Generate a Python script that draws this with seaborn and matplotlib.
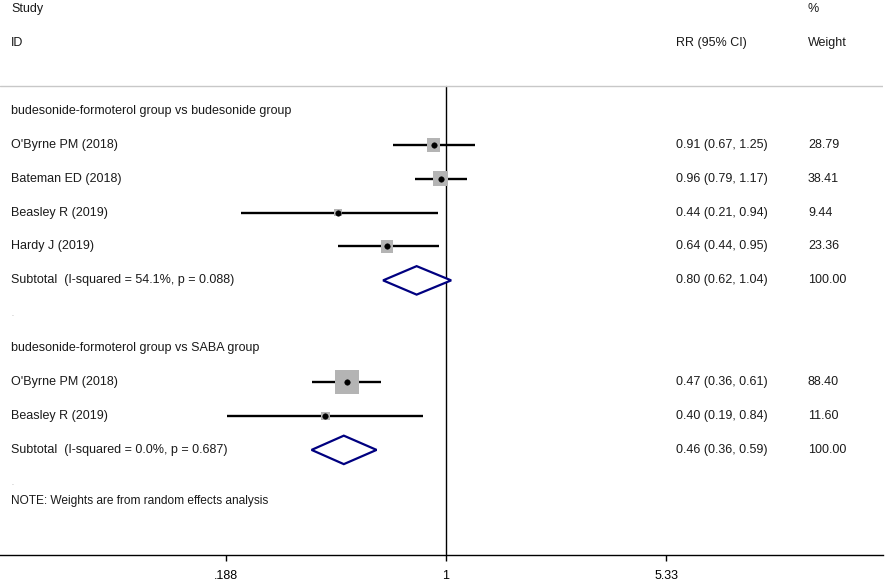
import numpy as np
import matplotlib
matplotlib.use("Agg")
import matplotlib.pyplot as plt
import matplotlib.transforms as mtransforms
import seaborn as sns
import pandas as pd

# --- data ---
group_names = ["budesonide-formoterol group vs budesonide group",
               "budesonide-formoterol group vs SABA group"]
studies_1 = ["O'Byrne PM (2018)", "Bateman ED (2018)", "Beasley R (2019)", "Hardy J (2019)"]
rr_1 = [0.91, 0.96, 0.44, 0.64]
lo_1 = [0.67, 0.79, 0.21, 0.44]
hi_1 = [1.25, 1.17, 0.94, 0.95]
wt_1 = [28.79, 38.41, 9.44, 23.36]
sub_1 = (0.80, 0.62, 1.04)
sub_label_1 = "Subtotal  (I-squared = 54.1%, p = 0.088)"

studies_2 = ["O'Byrne PM (2018)", "Beasley R (2019)"]
rr_2 = [0.47, 0.40]
lo_2 = [0.36, 0.19]
hi_2 = [0.61, 0.84]
wt_2 = [88.40, 11.60]
sub_2 = (0.46, 0.36, 0.59)
sub_label_2 = "Subtotal  (I-squared = 0.0%, p = 0.687)"

xticks = [0.188, 1, 5.33]
xtick_labels = [".188", "1", "5.33"]
note = "NOTE: Weights are from random effects analysis"

sns.set_style("white")
plt.rcParams['font.family'] = ['Liberation Sans', 'DejaVu Sans']
FS = 9.0

fig = plt.figure(figsize=(8.86, 5.84), dpi=100)
ax = fig.add_axes([0, 1 - 555 / 584, 883 / 886, 555 / 584])
ax.set_xscale("log")
ax.set_xlim(np.exp(-446 / 131.6), np.exp((883 - 446) / 131.6))
ax.set_ylim(13.1, -3.27)

# build row table
rows = []
r = 0
for name, st, rr, lo, hi, wt, sub, sl in [
        (group_names[0], studies_1, rr_1, lo_1, hi_1, wt_1, sub_1, sub_label_1),
        (group_names[1], studies_2, rr_2, lo_2, hi_2, wt_2, sub_2, sub_label_2)]:
    rows.append(dict(row=r, kind="head", label=name))
    r += 1
    for s, e, l, h, w in zip(st, rr, lo, hi, wt):
        rows.append(dict(row=r, kind="study", label=s, rr=e, lo=l, hi=h, wt=w))
        r += 1
    rows.append(dict(row=r, kind="sub", label=sl, rr=sub[0], lo=sub[1], hi=sub[2], wt=100.0))
    r += 1
    rows.append(dict(row=r, kind="blank", label="."))
    r += 1
df = pd.DataFrame(rows)
st_df = df[df.kind == "study"]
sub_df = df[df.kind == "sub"]

# CI lines
ax.hlines(st_df.row, st_df.lo, st_df.hi, color="black", lw=1.7, zorder=2)
# weight boxes (area proportional to weight)
sns.scatterplot(data=st_df, x="rr", y="row", size="wt", sizes=(0, 330), size_norm=(0, 100),
                marker="s", color="#b4b4b4", edgecolor="none", legend=False, ax=ax, zorder=3)
# point estimates
sns.scatterplot(data=st_df, x="rr", y="row", marker="o", s=16, color="black",
                edgecolor="black", legend=False, ax=ax, zorder=4)
# subtotal diamonds
for _, d in sub_df.iterrows():
    ax.fill([d.lo, d.rr, d.hi, d.rr, d.lo], [d.row, d.row - 0.42, d.row, d.row + 0.42, d.row],
            facecolor="white", edgecolor="#000080", lw=1.6, zorder=3)

# null line and header rule
ax.plot([1, 1], [-0.74, 13.1], color="black", lw=1.0, zorder=1)
ax.axhline(-0.74, color="#c8c8c8", lw=1.0)

tr = mtransforms.blended_transform_factory(ax.transAxes, ax.transData)
xl, xrr, xw = 11 / 883, 676 / 883, 808 / 883
txt = dict(transform=tr, fontsize=FS, va="center", color="#1a1a1a")
ax.text(xl, -3, "Study", **txt)
ax.text(xl, -2, "ID", **txt)
ax.text(xrr, -2, "RR (95% CI)", **txt)
ax.text(xw, -3, "%", **txt)
ax.text(xw, -2, "Weight", **txt)
for _, d in df.iterrows():
    if d.kind == "blank":
        ax.text(xl, d.row, d.label, transform=tr, fontsize=5, va="center", color="#999999")
        continue
    ax.text(xl, d.row, d.label, **txt)
    if d.kind in ("study", "sub"):
        ax.text(xrr, d.row, f"{d.rr:.2f} ({d.lo:.2f}, {d.hi:.2f})", **txt)
        ax.text(xw, d.row, f"{d.wt:.2f}", **txt)
ax.text(xl, 11.5, note, transform=tr, fontsize=FS * 0.95, va="center", color="#1a1a1a")

# axis styling
for side in ["top", "left", "right"]:
    ax.spines[side].set_visible(False)
ax.spines["bottom"].set_color("black")
ax.spines["bottom"].set_linewidth(1.0)
ax.set_yticks([])
ax.set_xticks(xticks)
ax.set_xticklabels(xtick_labels, fontsize=FS)
ax.minorticks_off()
ax.tick_params(axis="x", direction="out", length=4, width=1, pad=7, colors="black", bottom=True)
ax.set_xlabel("")
ax.set_ylabel("")

fig.savefig("out.png", dpi=100)
